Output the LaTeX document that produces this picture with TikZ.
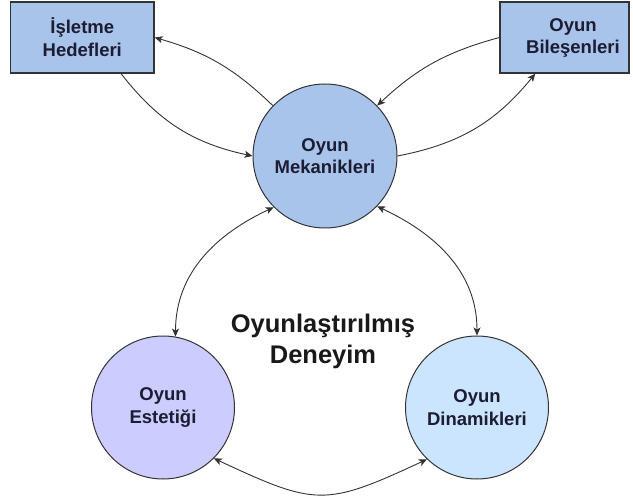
\documentclass[tikz,border=0pt]{standalone}
\usepackage{fontspec}
\setmainfont{Liberation Sans}
\usetikzlibrary{arrows.meta}
\definecolor{boxblue}{HTML}{A9C4EB}
\definecolor{estfill}{HTML}{CCCCFF}
\definecolor{dinfill}{HTML}{CCE5FF}
\definecolor{edge}{HTML}{333333}
\definecolor{txtcol}{HTML}{1C1C33}
\tikzset{
  nodetext/.style={font=\fontsize{18.5}{22.7}\selectfont\bfseries, text=txtcol, align=center},
  boxnode/.style={draw=edge, line width=1.2pt, fill=boxblue, rectangle, inner sep=0pt},
  circnode/.style={draw=edge, line width=1pt, circle, inner sep=0pt, nodetext},
  arr/.style={draw=edge, line width=0.9pt, -{Stealth[length=8pt,width=7pt,inset=2pt]}},
  arrboth/.style={draw=edge, line width=0.9pt, {Stealth[length=8pt,width=7pt,inset=2pt]}-{Stealth[length=8pt,width=7pt,inset=2pt]}},
}
\begin{document}
\begin{tikzpicture}[x=1pt,y=-1pt]
\useasboundingbox (0,0) rectangle (633,500);
% boxes
\node[boxnode, nodetext, minimum width=143.5pt, minimum height=71pt] (isl) at (82.3,37.5) {İşletme\\Hedefleri};
\node[boxnode, minimum width=129pt, minimum height=71pt] (bil) at (564.5,37.5) {};
\node[nodetext] (biltxt) at (573,38) {Oyun\\Bileşenleri};
% circles
\node[circnode, fill=boxblue, minimum size=144pt] (mek) at (325,156) {Oyun\\Mekanikleri};
\node[circnode, fill=estfill, minimum size=143pt] (est) at (163,407.5) {Oyun\\Estetiği};
\node[circnode, fill=dinfill, minimum size=143pt] (din) at (477,407.5) {Oyun\\Dinamikleri};
% centre text
\node[font=\fontsize{25.5}{31}\selectfont\bfseries, text=black!90, align=center] (deneyim) at (323,341) {Oyunlaştırılmış\\Deneyim};
% connectors
\draw[arr] (mek.136) to[bend right=14] (isl.east);
\draw[arr] (isl.-43) to[bend right=20] (mek.180);
\draw[arr] (bil.west) to[bend right=14] (mek.44);
\draw[arr] (mek.0) to[bend right=20] (bil.231);
\draw[arrboth] (mek.225) to[out=205,in=90] (est.80);
\draw[arrboth] (mek.316) to[out=-25,in=90] (din.90);
\draw[arrboth] (est.315) to[out=-25,in=-155,looseness=1.35] (din.226);
\end{tikzpicture}
\end{document}
